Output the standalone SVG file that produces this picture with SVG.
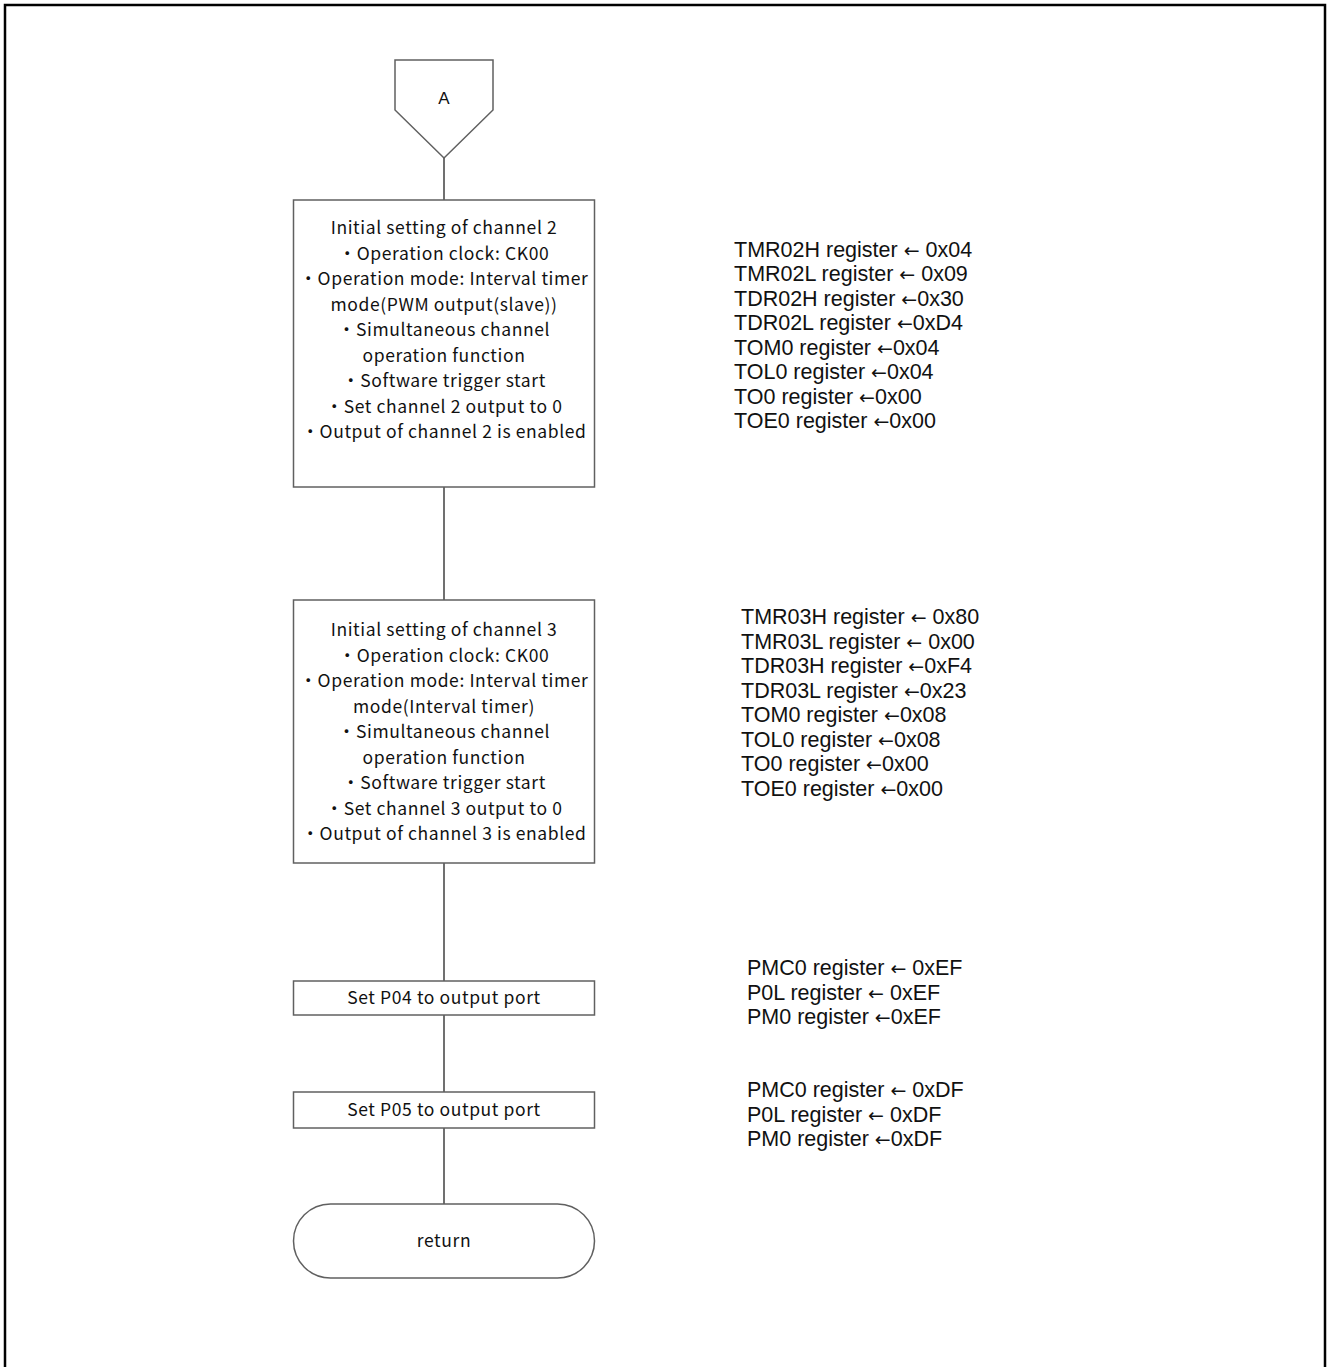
<svg xmlns="http://www.w3.org/2000/svg" width="1328" height="1367" viewBox="0 0 1328 1367">
<style>
.frame{fill:none;stroke:#000;stroke-width:2.5}
.shape{fill:#fff;stroke:#606060;stroke-width:1.5}
.conn{fill:none;stroke:#707070;stroke-width:2}
.jt{font-family:"Noto Sans CJK JP","Noto Sans",sans-serif;font-size:17.5px;letter-spacing:0.6px;fill:#111;text-anchor:middle}
.rt{font-family:"Liberation Sans",Arial,sans-serif;font-size:21.5px;fill:#111}
.ar{font-family:"DejaVu Sans",sans-serif;font-size:19px}
</style>
<rect width="1328" height="1367" fill="#fff"/>
<path class="frame" d="M5,1367 V5 H1325 V1367"/>
<g id="connectors">
<line class="conn" x1="444" y1="158" x2="444" y2="200"/>
<line class="conn" x1="444" y1="487" x2="444" y2="600"/>
<line class="conn" x1="444" y1="863" x2="444" y2="981"/>
<line class="conn" x1="444" y1="1015" x2="444" y2="1092"/>
<line class="conn" x1="444" y1="1128" x2="444" y2="1204"/>
</g>
<g id="nodeA">
<path class="shape" d="M395,60 H493 V110 L444,158 L395,110 Z"/>
<text class="jt" x="444" y="104" style="font-family:'Liberation Sans',Arial,sans-serif;font-size:17px;letter-spacing:0">A</text>
</g>
<g id="node1">
<rect class="shape" x="293.5" y="200" width="301" height="287"/>
<text class="jt" x="444" y="234">Initial setting of channel 2</text>
<text class="jt" x="444" y="259.5">・Operation clock: CK00</text>
<text class="jt" x="444" y="285">・Operation mode: Interval timer</text>
<text class="jt" x="444" y="310.5">mode(PWM output(slave))</text>
<text class="jt" x="444" y="336">・Simultaneous channel</text>
<text class="jt" x="444" y="361.5">operation function</text>
<text class="jt" x="444" y="387">・Software trigger start</text>
<text class="jt" x="444" y="412.5">・Set channel 2 output to 0</text>
<text class="jt" x="444" y="438">・Output of channel 2 is enabled</text>
</g>
<g id="node2">
<rect class="shape" x="293.5" y="600" width="301" height="263"/>
<text class="jt" x="444" y="636">Initial setting of channel 3</text>
<text class="jt" x="444" y="661.5">・Operation clock: CK00</text>
<text class="jt" x="444" y="687">・Operation mode: Interval timer</text>
<text class="jt" x="444" y="712.5">mode(Interval timer)</text>
<text class="jt" x="444" y="738">・Simultaneous channel</text>
<text class="jt" x="444" y="763.5">operation function</text>
<text class="jt" x="444" y="789">・Software trigger start</text>
<text class="jt" x="444" y="814.5">・Set channel 3 output to 0</text>
<text class="jt" x="444" y="840">・Output of channel 3 is enabled</text>
</g>
<g id="node3">
<rect class="shape" x="293.5" y="981" width="301" height="34"/>
<text class="jt" x="444" y="1004">Set P04 to output port</text>
</g>
<g id="node4">
<rect class="shape" x="293.5" y="1092" width="301" height="36"/>
<text class="jt" x="444" y="1116">Set P05 to output port</text>
</g>
<g id="node5">
<rect class="shape" x="293.5" y="1204" width="301" height="74" rx="37" ry="37"/>
<text class="jt" x="444" y="1247">return</text>
</g>
<g id="notes1">
<text class="rt" x="734" y="256.5">TMR02H register <tspan class="ar">←</tspan> 0x04</text>
<text class="rt" x="734" y="281">TMR02L register <tspan class="ar">←</tspan> 0x09</text>
<text class="rt" x="734" y="305.5">TDR02H register <tspan class="ar">←</tspan>0x30</text>
<text class="rt" x="734" y="330">TDR02L register <tspan class="ar">←</tspan>0xD4</text>
<text class="rt" x="734" y="354.5">TOM0 register <tspan class="ar">←</tspan>0x04</text>
<text class="rt" x="734" y="379">TOL0 register <tspan class="ar">←</tspan>0x04</text>
<text class="rt" x="734" y="403.5">TO0 register <tspan class="ar">←</tspan>0x00</text>
<text class="rt" x="734" y="428">TOE0 register <tspan class="ar">←</tspan>0x00</text>
</g>
<g id="notes2">
<text class="rt" x="741" y="624">TMR03H register <tspan class="ar">←</tspan> 0x80</text>
<text class="rt" x="741" y="648.5">TMR03L register <tspan class="ar">←</tspan> 0x00</text>
<text class="rt" x="741" y="673">TDR03H register <tspan class="ar">←</tspan>0xF4</text>
<text class="rt" x="741" y="697.5">TDR03L register <tspan class="ar">←</tspan>0x23</text>
<text class="rt" x="741" y="722">TOM0 register <tspan class="ar">←</tspan>0x08</text>
<text class="rt" x="741" y="746.5">TOL0 register <tspan class="ar">←</tspan>0x08</text>
<text class="rt" x="741" y="771">TO0 register <tspan class="ar">←</tspan>0x00</text>
<text class="rt" x="741" y="795.5">TOE0 register <tspan class="ar">←</tspan>0x00</text>
</g>
<g id="notes3">
<text class="rt" x="747" y="975">PMC0 register <tspan class="ar">←</tspan> 0xEF</text>
<text class="rt" x="747" y="999.5">P0L register <tspan class="ar">←</tspan> 0xEF</text>
<text class="rt" x="747" y="1024">PM0 register <tspan class="ar">←</tspan>0xEF</text>
</g>
<g id="notes4">
<text class="rt" x="747" y="1097">PMC0 register <tspan class="ar">←</tspan> 0xDF</text>
<text class="rt" x="747" y="1121.5">P0L register <tspan class="ar">←</tspan> 0xDF</text>
<text class="rt" x="747" y="1146">PM0 register <tspan class="ar">←</tspan>0xDF</text>
</g>
</svg>
